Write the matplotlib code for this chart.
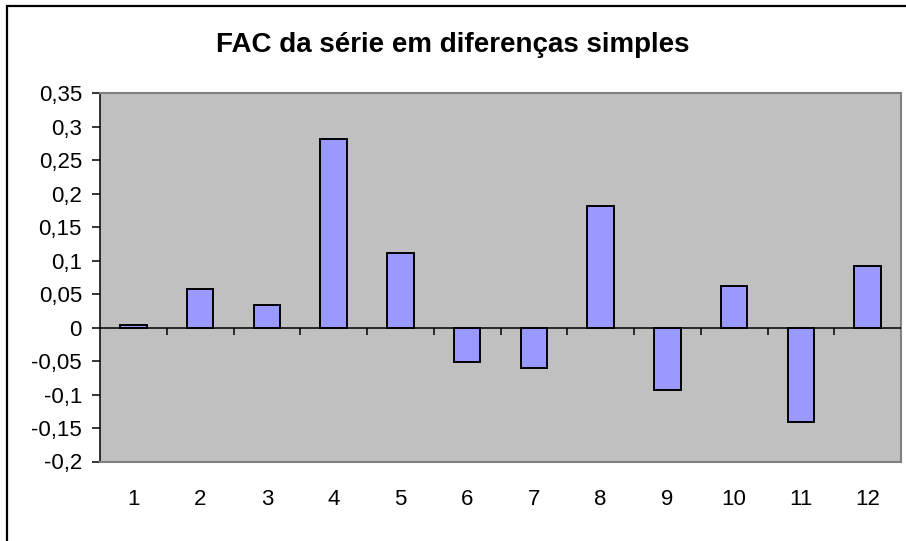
import numpy as np
import matplotlib
matplotlib.use("Agg")
import matplotlib.pyplot as plt
from matplotlib.markers import TICKDOWN
from matplotlib.patches import Rectangle

# dados (FAC por defasagem)
lags = [1, 2, 3, 4, 5, 6, 7, 8, 9, 10, 11, 12]
fac = [0.004, 0.057, 0.033, 0.281, 0.111, -0.052, -0.060, 0.182, -0.093, 0.062, -0.141, 0.092]

y_ticks = [0.35, 0.3, 0.25, 0.2, 0.15, 0.1, 0.05, 0, -0.05, -0.1, -0.15, -0.2]
y_labels = ["0,35", "0,3", "0,25", "0,2", "0,15", "0,1", "0,05", "0",
            "-0,05", "-0,1", "-0,15", "-0,2"]
titulo = "FAC da série em diferenças simples"

plt.rcParams['font.family'] = ['Liberation Sans', 'DejaVu Sans']

fig = plt.figure(figsize=(9.06, 5.41), dpi=100)
ax = fig.add_axes([100 / 906, 1 - 461.5 / 541, 801 / 906, 368.5 / 541])
ax.set_facecolor("#C0C0C0")

x = np.arange(len(lags))
ax.bar(x, fac, width=0.4, color="#9999FF", edgecolor="black", linewidth=1.4, zorder=3)

# eixo x em zero com marcas entre as categorias
ax.axhline(0, color="black", linewidth=1.1, zorder=4)
bounds = np.arange(len(lags) - 1) + 0.5
ax.plot(bounds, np.zeros(len(bounds)), linestyle="none", marker=TICKDOWN,
        markersize=5, markeredgewidth=1.1, color="black", zorder=4, clip_on=False)

ax.set_xlim(-0.5, len(lags) - 0.5)
ax.set_ylim(-0.2, 0.35)
ax.set_yticks(y_ticks)
ax.set_yticklabels(y_labels)
ax.set_xticks(x)
ax.set_xticklabels([str(l) for l in lags])

ax.tick_params(axis="y", direction="out", length=6, width=1.1, pad=7, labelsize=16)
ax.tick_params(axis="x", length=0, pad=20, labelsize=16)

for s in ["top", "right", "bottom"]:
    ax.spines[s].set_color("#808080")
    ax.spines[s].set_linewidth(1.5)
ax.spines["left"].set_color("black")
ax.spines["left"].set_linewidth(1.1)

fig.text(0.5, 1 - 45 / 541, titulo, ha="center", va="center",
         fontsize=20, fontweight="bold")

# borda da area do grafico (cortada a direita e embaixo)
fig.add_artist(Rectangle((7 / 906, -0.05), 1.1, 1.05 - 6 / 541,
                         transform=fig.transFigure, fill=False,
                         edgecolor="black", linewidth=1.6, clip_on=False))

fig.savefig("out.png", dpi=100)
